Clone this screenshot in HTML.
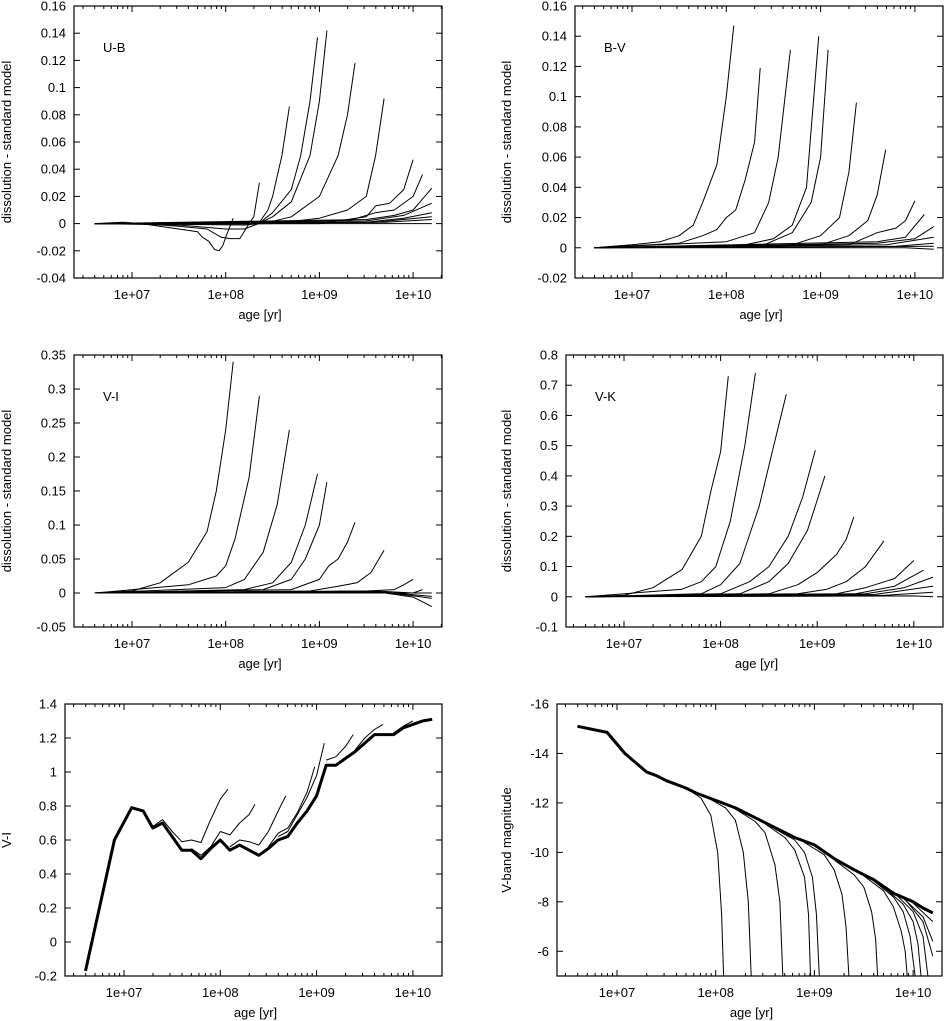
<!DOCTYPE html>
<html><head><meta charset="utf-8"><style>
html,body{margin:0;padding:0;background:#fff;}
svg{display:block;font-family:"Liberation Sans",sans-serif;}
text{font-size:13px;fill:#000;}
</style></head><body>
<svg id="fig" width="944" height="1021" viewBox="0 0 944 1021" xmlns="http://www.w3.org/2000/svg"></svg>
<script>
// ---------- data (x = log10 age [yr]) ----------
const xTickLabels = ["1e+07","1e+08","1e+09","1e+10"];
const xTickLogs = [7,8,9,10];

const ubTicks = [0.16,0.14,0.12,0.1,0.08,0.06,0.04,0.02,0,-0.02,-0.04];
const ubCurves = [
 [[6.6,0],[6.9,0.001],[7.1,0],[7.5,-0.004],[7.7,-0.006],[7.75,-0.01],[7.82,-0.013],[7.88,-0.019],[7.93,-0.02],[7.97,-0.016],[8.0,-0.01],[8.08,0.004]],
 [[6.6,0],[7.1,0],[7.5,-0.002],[7.8,-0.004],[7.95,-0.01],[8.05,-0.011],[8.15,-0.011],[8.25,0],[8.3,0.005],[8.36,0.03]],
 [[6.6,0],[7.5,-0.001],[8,-0.004],[8.2,-0.004],[8.35,0],[8.45,0.01],[8.5,0.02],[8.6,0.05],[8.68,0.086]],
 [[6.6,0],[8.2,-0.001],[8.35,0],[8.5,0.008],[8.7,0.025],[8.8,0.05],[8.9,0.09],[8.98,0.137]],
 [[6.6,0],[8.35,0],[8.5,0.005],[8.7,0.016],[8.9,0.05],[9.0,0.09],[9.08,0.142]],
 [[6.6,0],[8.4,0],[8.7,0.005],[9.0,0.02],[9.2,0.05],[9.3,0.08],[9.38,0.118]],
 [[6.6,0],[8.5,0],[9.0,0.004],[9.3,0.01],[9.5,0.02],[9.6,0.05],[9.69,0.092]],
 [[6.6,0],[9,0],[9.5,0.005],[9.6,0.013],[9.75,0.015],[9.9,0.025],[10.0,0.047]],
 [[6.6,0],[9.3,0.002],[9.6,0.008],[9.8,0.01],[10.0,0.02],[10.1,0.036]],
 [[6.6,0],[9.5,0.003],[9.8,0.006],[10.0,0.01],[10.1,0.018],[10.2,0.026]],
 [[6.6,0],[9.5,0.002],[9.9,0.006],[10.2,0.015]],
 [[6.6,0],[9.5,0.001],[9.9,0.004],[10.2,0.008]],
 [[6.6,0],[9.6,0.001],[10.2,0.005]],
 [[6.6,0],[9.7,0.001],[10.2,0.003]],
 [[6.6,0],[10.2,0]]
];

const bvTicks = [0.16,0.14,0.12,0.1,0.08,0.06,0.04,0.02,0,-0.02];
const bvCurves = [
 [[6.6,0],[7,0.002],[7.3,0.004],[7.5,0.008],[7.65,0.015],[7.75,0.03],[7.9,0.055],[8.0,0.1],[8.08,0.147]],
 [[6.6,0],[7.5,0.003],[7.75,0.008],[7.9,0.012],[8.0,0.02],[8.1,0.025],[8.2,0.045],[8.3,0.07],[8.36,0.119]],
 [[6.6,0],[8,0.004],[8.2,0.008],[8.3,0.01],[8.45,0.03],[8.55,0.06],[8.68,0.131]],
 [[6.6,0],[8.2,0.002],[8.5,0.006],[8.7,0.015],[8.85,0.04],[8.98,0.14]],
 [[6.6,0],[8.4,0.002],[8.7,0.01],[8.9,0.03],[9.0,0.06],[9.08,0.131]],
 [[6.6,0],[8.7,0.002],[9.0,0.008],[9.2,0.02],[9.3,0.05],[9.38,0.096]],
 [[6.6,0],[9.0,0.002],[9.3,0.008],[9.5,0.018],[9.6,0.035],[9.69,0.065]],
 [[6.6,0],[9.3,0.002],[9.6,0.01],[9.8,0.013],[9.9,0.018],[10.0,0.031]],
 [[6.6,0],[9.6,0.004],[9.9,0.007],[10.1,0.022]],
 [[6.6,0],[9.6,0.003],[10.0,0.006],[10.2,0.014]],
 [[6.6,0],[9.7,0.002],[10.2,0.007]],
 [[6.6,0],[9.8,0.001],[10.2,0.003]],
 [[6.6,0],[10.2,0.001]],
 [[6.6,0],[9.9,0],[10.2,-0.001]]
];

const viTicks = [0.35,0.3,0.25,0.2,0.15,0.1,0.05,0,-0.05];
const viCurves = [
 [[6.6,0],[7,0.003],[7.3,0.015],[7.6,0.045],[7.8,0.09],[7.9,0.15],[8.0,0.24],[8.08,0.34]],
 [[6.6,0],[7.6,0.012],[7.9,0.025],[8.0,0.04],[8.1,0.08],[8.25,0.17],[8.36,0.29]],
 [[6.6,0],[8.0,0.008],[8.2,0.02],[8.4,0.06],[8.55,0.13],[8.68,0.24]],
 [[6.6,0],[8.2,0.005],[8.5,0.015],[8.7,0.045],[8.85,0.1],[8.98,0.175]],
 [[6.6,0],[8.4,0.005],[8.7,0.02],[8.85,0.05],[9.0,0.1],[9.08,0.163]],
 [[6.6,0],[8.7,0.005],[9.0,0.02],[9.1,0.04],[9.2,0.05],[9.3,0.075],[9.38,0.104]],
 [[6.6,0],[8.9,0.003],[9.2,0.01],[9.4,0.015],[9.55,0.03],[9.69,0.063]],
 [[6.6,0],[9.5,0.003],[9.8,0.005],[9.9,0.012],[10.0,0.02]],
 [[6.6,0],[9.6,0.003],[10.0,0.0],[10.1,0.005]],
 [[6.6,0],[9.6,0.002],[10.0,-0.004],[10.2,-0.008]],
 [[6.6,0],[9.6,0.002],[10.0,-0.006],[10.2,-0.02]],
 [[6.6,0],[9.7,0.001],[10.2,-0.005]],
 [[6.6,0],[10.2,0]]
];

const vkTicks = [0.8,0.7,0.6,0.5,0.4,0.3,0.2,0.1,0,-0.1];
const vkCurves = [
 [[6.6,0],[7,0.005],[7.3,0.03],[7.6,0.09],[7.8,0.2],[7.9,0.35],[8.0,0.48],[8.08,0.73]],
 [[6.6,0],[7.6,0.025],[7.8,0.05],[7.95,0.1],[8.1,0.25],[8.25,0.5],[8.36,0.74]],
 [[6.6,0],[7.8,0.01],[8.0,0.04],[8.2,0.11],[8.4,0.3],[8.55,0.5],[8.68,0.67]],
 [[6.6,0],[8.0,0.01],[8.3,0.05],[8.5,0.1],[8.7,0.2],[8.85,0.33],[8.98,0.485]],
 [[6.6,0],[8.2,0.01],[8.5,0.05],[8.7,0.11],[8.9,0.22],[9.0,0.32],[9.08,0.4]],
 [[6.6,0],[8.5,0.01],[8.8,0.04],[9.0,0.08],[9.1,0.11],[9.2,0.14],[9.3,0.19],[9.38,0.265]],
 [[6.6,0],[8.8,0.01],[9.1,0.025],[9.3,0.05],[9.5,0.1],[9.69,0.185]],
 [[6.6,0],[9.2,0.01],[9.5,0.03],[9.8,0.06],[10.0,0.12]],
 [[6.6,0],[9.4,0.01],[9.8,0.035],[10.1,0.088]],
 [[6.6,0],[9.5,0.01],[9.9,0.03],[10.2,0.065]],
 [[6.6,0],[9.6,0.008],[10.2,0.035]],
 [[6.6,0],[9.7,0.005],[10.2,0.015]],
 [[6.6,0],[10.0,0.003],[10.2,0]]
];

const colTicks = [1.4,1.2,1,0.8,0.6,0.4,0.2,0,-0.2];
const colMain = [[6.6,-0.17],[6.9,0.6],[7.08,0.79],[7.2,0.77],[7.3,0.67],[7.4,0.7],[7.5,0.62],[7.6,0.54],[7.7,0.54],[7.8,0.49],[7.9,0.55],[8.0,0.6],[8.1,0.54],[8.2,0.57],[8.3,0.54],[8.4,0.51],[8.5,0.55],[8.6,0.6],[8.7,0.62],[8.8,0.7],[8.9,0.77],[9.0,0.86],[9.1,1.04],[9.2,1.04],[9.3,1.08],[9.4,1.12],[9.5,1.17],[9.6,1.22],[9.7,1.22],[9.8,1.22],[9.9,1.26],[10.0,1.28],[10.1,1.3],[10.2,1.31]];
const colBranches = [
 [[7.3,0.68],[7.4,0.72],[7.5,0.65],[7.6,0.59],[7.7,0.6],[7.8,0.585],[7.9,0.72],[8.0,0.84],[8.08,0.9]],
 [[7.7,0.55],[7.8,0.51],[7.9,0.56],[8.0,0.65],[8.1,0.63],[8.2,0.7],[8.3,0.75],[8.36,0.81]],
 [[8.1,0.56],[8.2,0.6],[8.3,0.59],[8.4,0.57],[8.5,0.65],[8.6,0.77],[8.68,0.86]],
 [[8.5,0.56],[8.6,0.64],[8.7,0.67],[8.8,0.76],[8.9,0.88],[8.98,1.03]],
 [[8.6,0.62],[8.7,0.65],[8.9,0.85],[9.0,0.98],[9.08,1.17]],
 [[9.1,1.07],[9.2,1.09],[9.3,1.15],[9.38,1.22]],
 [[9.4,1.13],[9.5,1.2],[9.6,1.25],[9.69,1.28]],
 [[9.8,1.23],[9.9,1.27],[10.0,1.3]]
];

const magTicks = [-16,-14,-12,-10,-8,-6];
const magMain = [[6.6,-15.1],[6.9,-14.85],[7.08,-14.0],[7.3,-13.25],[7.4,-13.1],[7.5,-12.9],[7.7,-12.6],[7.8,-12.4],[8.0,-12.1],[8.2,-11.8],[8.4,-11.4],[8.6,-11.0],[8.8,-10.6],[9.0,-10.3],[9.2,-9.75],[9.4,-9.3],[9.6,-8.9],[9.8,-8.35],[10.0,-8.0],[10.1,-7.75],[10.2,-7.55]];
const magBranches = [
 [[7.7,-12.6],[7.85,-12.2],[7.95,-11.5],[8.02,-10],[8.06,-7.5],[8.08,-5]],
 [[7.9,-12.25],[8.1,-11.8],[8.2,-11.3],[8.28,-10],[8.33,-8],[8.36,-5]],
 [[8.2,-11.75],[8.4,-11.25],[8.5,-10.8],[8.6,-9.5],[8.65,-8],[8.68,-5]],
 [[8.5,-11.15],[8.7,-10.6],[8.8,-10.1],[8.9,-9],[8.94,-7.5],[8.96,-5]],
 [[8.6,-10.95],[8.8,-10.5],[8.9,-10.0],[8.98,-9],[9.02,-7.5],[9.05,-5]],
 [[8.9,-10.4],[9.1,-9.9],[9.2,-9.3],[9.28,-8.3],[9.32,-7],[9.35,-5]],
 [[9.2,-9.7],[9.4,-9.1],[9.5,-8.6],[9.58,-7.6],[9.62,-6.5],[9.64,-5]],
 [[9.5,-9.05],[9.7,-8.45],[9.8,-7.8],[9.88,-6.8],[9.92,-6],[9.94,-5]],
 [[9.6,-8.85],[9.8,-8.2],[9.9,-7.6],[9.97,-6.6],[10.02,-5]],
 [[9.7,-8.6],[9.9,-7.9],[10.0,-7.2],[10.05,-6.3],[10.08,-5]],
 [[9.8,-8.4],[10.0,-7.6],[10.1,-6.6],[10.15,-5]],
 [[9.9,-8.2],[10.1,-7.2],[10.2,-5.8]],
 [[9.9,-8.15],[10.1,-7.4],[10.2,-6.4]],
 [[10.0,-7.95],[10.2,-7.2]]
];

// ---------- rendering ----------
const NS = "http://www.w3.org/2000/svg";
const svg = document.getElementById('fig');
function mk(tag, attrs, parent){ const e=document.createElementNS(NS,tag); for(const k in attrs) e.setAttribute(k,attrs[k]); (parent||svg).appendChild(e); return e; }

function panel(cfg){
  const g = mk('g',{});
  
  
  const sx = v => cfg.x7 + (v-7)*cfg.dec;
  const sy = v => cfg.T + (cfg.ymax - v)/(cfg.ymax - cfg.ymin)*(cfg.B - cfg.T);
  const clipId = 'c'+cfg.name;
  const cp = mk('clipPath',{id:clipId},g);
  mk('rect',{x:cfg.L,y:cfg.T,width:cfg.R-cfg.L,height:cfg.B-cfg.T},cp);
  cfg.yticks.forEach(v=>{
    const y = sy(v);
    const t1 = mk('line',{x1:cfg.L,y1:y,x2:cfg.L+6,y2:y,stroke:'#000','stroke-width':1},g);
    
    
    mk('line',{x1:cfg.R,y1:y,x2:cfg.R-6,y2:y,stroke:'#000','stroke-width':1},g);
    const tx = mk('text',{x:cfg.L-8,y:y+4.5,'text-anchor':'end'},g);
    tx.textContent = String(v);
    
    
  });
  for(let d=6; d<=10; d++){
    for(let m=1; m<=9; m++){
      const lv = d + Math.log10(m);
      const x = sx(lv);
      if(x < cfg.L+0.5 || x > cfg.R-0.5) continue;
      const len = m===1 ? 6 : 3;
      mk('line',{x1:x,y1:cfg.B,x2:x,y2:cfg.B-len,stroke:'#000','stroke-width':1},g);
      mk('line',{x1:x,y1:cfg.T,x2:x,y2:cfg.T+len,stroke:'#000','stroke-width':1},g);
    }
  }
  xTickLogs.forEach((lv,i)=>{
    const tx = mk('text',{x:sx(lv),y:cfg.B+21,'text-anchor':'middle'},g);
    tx.textContent = xTickLabels[i];
    
    
  });
  const cg = mk('g',{'clip-path':'url(#'+clipId+')'},g);
  const draw = (pts, w, nm) => {
    const p = mk('polyline',{points:pts.map(q=>sx(q[0]).toFixed(1)+','+sy(q[1]).toFixed(1)).join(' '),fill:'none',stroke:'#000','stroke-width':w,'stroke-linejoin':'round'},cg);
    
    
  };
  (cfg.curves||[]).forEach((c,i)=>draw(c,1,'curve-'+(i+1)));
  if(cfg.main) draw(cfg.main,3,'standard-model-line');
  const fr = mk('rect',{x:cfg.L,y:cfg.T,width:cfg.R-cfg.L,height:cfg.B-cfg.T,fill:'none',stroke:'#000','stroke-width':1.2},g);
  
  
  const xl = mk('text',{x:(cfg.L+cfg.R)/2+2,y:cfg.B+41,'text-anchor':'middle'},g);
  xl.textContent = 'age [yr]';
  
  
  const yc = (cfg.T+cfg.B)/2;
  const yl = mk('text',{x:cfg.ylx,y:yc,'text-anchor':'middle',transform:'rotate(-90 '+cfg.ylx+' '+yc+')'},g);
  yl.textContent = cfg.ytitle;
  
  
  if(cfg.tag){
    const tg = mk('text',{x:cfg.L+29,y:cfg.T+46},g);
    tg.textContent = cfg.tag;
    
    
  }
}

const DS = 'dissolution - standard model';
panel({name:'panel-ub',L:74,T:6,R:442,B:278,x7:132,dec:93.7,ymax:0.16,ymin:-0.04,yticks:ubTicks,curves:ubCurves,ytitle:DS,ylx:11,tag:'U-B'});
panel({name:'panel-bv',L:575,T:6,R:943,B:278,x7:632,dec:94.3,ymax:0.16,ymin:-0.02,yticks:bvTicks,curves:bvCurves,ytitle:DS,ylx:511,tag:'B-V'});
panel({name:'panel-vi',L:74,T:355,R:442,B:627,x7:132,dec:93.7,ymax:0.35,ymin:-0.05,yticks:viTicks,curves:viCurves,ytitle:DS,ylx:11,tag:'V-I'});
panel({name:'panel-vk',L:566,T:355,R:943,B:627,x7:624,dec:96.6,ymax:0.8,ymin:-0.1,yticks:vkTicks,curves:vkCurves,ytitle:DS,ylx:511,tag:'V-K'});
panel({name:'panel-color',L:65,T:704,R:442,B:976,x7:124,dec:96.3,ymax:1.4,ymin:-0.2,yticks:colTicks,curves:colBranches,main:colMain,ytitle:'V-I',ylx:11});
panel({name:'panel-vmag',L:557,T:704,R:942,B:976,x7:617,dec:98.7,ymax:-16,ymin:-5,yticks:magTicks,curves:magBranches,main:magMain,ytitle:'V-band magnitude',ylx:511});
</script>
</body></html>
